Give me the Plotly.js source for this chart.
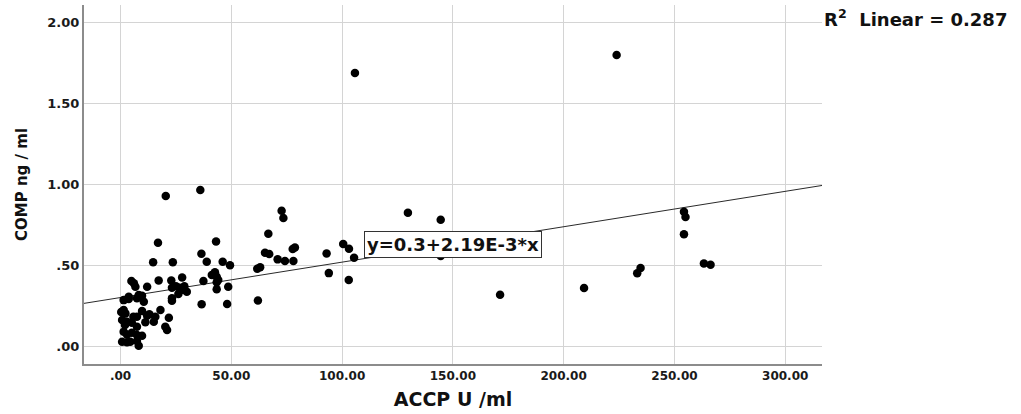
<!DOCTYPE html>
<html>
<head>
<meta charset="utf-8">
<script src="https://cdn.plot.ly/plotly-3.0.1.min.js"></script>
<style>
html,body{margin:0;padding:0;background:#fff;}
#chart{width:1021px;height:414px;}
</style>
</head>
<body>
<div id="chart"></div>
<script>
// ACCP U/ml values (x) and COMP ng/ml values (y)
const accp = [
  105.8, 223.9, 129.7, 144.5, 144.5, 171.3, 209.2, 233.2, 234.7, 254.3, 255.0, 254.3, 263.3, 266.3,
  72.7, 73.5, 66.7, 65.2, 67.1, 77.7, 78.7, 70.9, 74.2, 78.0, 93.0, 94.0, 100.5, 103.1, 105.4, 103.0, 61.7, 63.0, 62.0,
  20.4, 36.0, 16.9, 43.1, 36.5, 38.9, 46.1, 49.4, 42.6, 41.2, 43.4, 37.4, 44.1, 43.4, 43.4, 48.6, 36.6, 48.1,
  14.7, 23.6, 27.8, 17.2, 22.9, 23.2, 25.0, 26.5, 28.0, 28.8, 29.9, 26.1, 23.2, 23.2,
  4.9, 6.0, 6.7, 12.0, 8.2, 9.7, 3.7, 1.4, 3.7, 7.4, 10.5, 1.4, 2.2, 9.7, 18.0, 7.4, 12.0, 15.7,
  0.7, 2.9, 11.2, 15.0, 21.8, 20.2, 21.0, 7.4, 1.4, 2.9, 7.4, 9.7, 0.7, 2.9, 4.4, 7.4, 8.2,
  5.8, 5.1, 0.3, 2.0, 13.0, 5.1
];
const comp = [
  1.688, 1.800, 0.824, 0.781, 0.557, 0.317, 0.359, 0.450, 0.482, 0.831, 0.798, 0.691, 0.511, 0.503,
  0.837, 0.792, 0.695, 0.577, 0.569, 0.600, 0.610, 0.536, 0.526, 0.526, 0.573, 0.451, 0.631, 0.602, 0.546, 0.408, 0.478, 0.487, 0.282,
  0.928, 0.965, 0.639, 0.647, 0.571, 0.521, 0.521, 0.500, 0.456, 0.439, 0.429, 0.402, 0.408, 0.394, 0.351, 0.367, 0.258, 0.260,
  0.518, 0.518, 0.424, 0.406, 0.406, 0.360, 0.370, 0.360, 0.348, 0.370, 0.336, 0.322, 0.295, 0.280,
  0.402, 0.388, 0.367, 0.367, 0.315, 0.311, 0.305, 0.284, 0.291, 0.295, 0.274, 0.223, 0.202, 0.216, 0.223, 0.181, 0.187, 0.181,
  0.161, 0.150, 0.147, 0.150, 0.175, 0.119, 0.099, 0.119, 0.088, 0.072, 0.068, 0.064, 0.027, 0.023, 0.027, 0.031, 0.002,
  0.181, 0.144, 0.210, 0.130, 0.196, 0.082
];
// Fit line endpoints (y = 0.3 + 2.19E-3*x) at the plot edges
const fitX = [-16.5, 316.6];
const fitY = [0.264, 0.993];

const xTickVals = [0, 50, 100, 150, 200, 250, 300];
const xTickText = ['.00', '50.00', '100.00', '150.00', '200.00', '250.00', '300.00'];
const yTickVals = [0, 0.5, 1.0, 1.5, 2.0];
const yTickText = ['.00', '.50', '1.00', '1.50', '2.00'];

const eqText = 'y=0.3+2.19E-3*x';
const r2Text = 'R<sup>2</sup>  Linear = 0.287';

const traces = [
  {
    x: fitX, y: fitY, type: 'scatter', mode: 'lines',
    line: {color: '#2a2a2a', width: 1}, hoverinfo: 'skip', showlegend: false
  },
  {
    x: accp, y: comp, type: 'scatter', mode: 'markers',
    marker: {color: '#000000', size: 8.5, line: {width: 0}}, showlegend: false
  }
];

const FAM = 'DejaVu Sans, Arial, sans-serif';
const tickFontX = {family: FAM, size: 12, color: '#1a1a1a', weight: 700};
const tickFontY = {family: FAM, size: 13, color: '#1a1a1a', weight: 700};

const layout = {
  width: 1021, height: 414,
  margin: {l: 84, r: 199, t: 5, b: 50},
  paper_bgcolor: '#ffffff', plot_bgcolor: '#ffffff',
  showlegend: false,
  xaxis: {
    range: [-16.5, 316.6], tickvals: xTickVals, ticktext: xTickText,
    showgrid: true, gridcolor: '#d4d4d4', gridwidth: 1, zeroline: false,
    showline: true, linecolor: '#8c8c8c', linewidth: 2,
    ticks: '', tickfont: tickFontX, automargin: false,
    title: {text: 'ACCP U /ml', font: {family: FAM, size: 19, color: '#111', weight: 700}, standoff: 10}
  },
  yaxis: {
    range: [-0.111, 2.109], tickvals: yTickVals, ticktext: yTickText,
    showgrid: true, gridcolor: '#d4d4d4', gridwidth: 1, zeroline: false,
    showline: true, linecolor: '#8c8c8c', linewidth: 2,
    ticks: '', tickfont: tickFontY, automargin: false,
    title: {text: 'COMP ng / ml', font: {family: FAM, size: 15, color: '#111', weight: 700}, standoff: 16}
  },
  annotations: [
    {
      x: 149.9, y: 0.628, xref: 'x', yref: 'y', text: eqText, showarrow: false,
      xanchor: 'center', yanchor: 'middle',
      font: {family: FAM, size: 18, color: '#111', weight: 700},
      bgcolor: '#ffffff', bordercolor: '#333333', borderwidth: 1, borderpad: 2
    },
    {
      x: 1, y: 0.963, xref: 'paper', yref: 'paper', text: r2Text, showarrow: false,
      xanchor: 'left', yanchor: 'middle', xshift: 0,
      font: {family: FAM, size: 18, color: '#111', weight: 700}
    }
  ]
};

Plotly.newPlot('chart', traces, layout, {displayModeBar: false, staticPlot: true});
</script>
</body>
</html>
